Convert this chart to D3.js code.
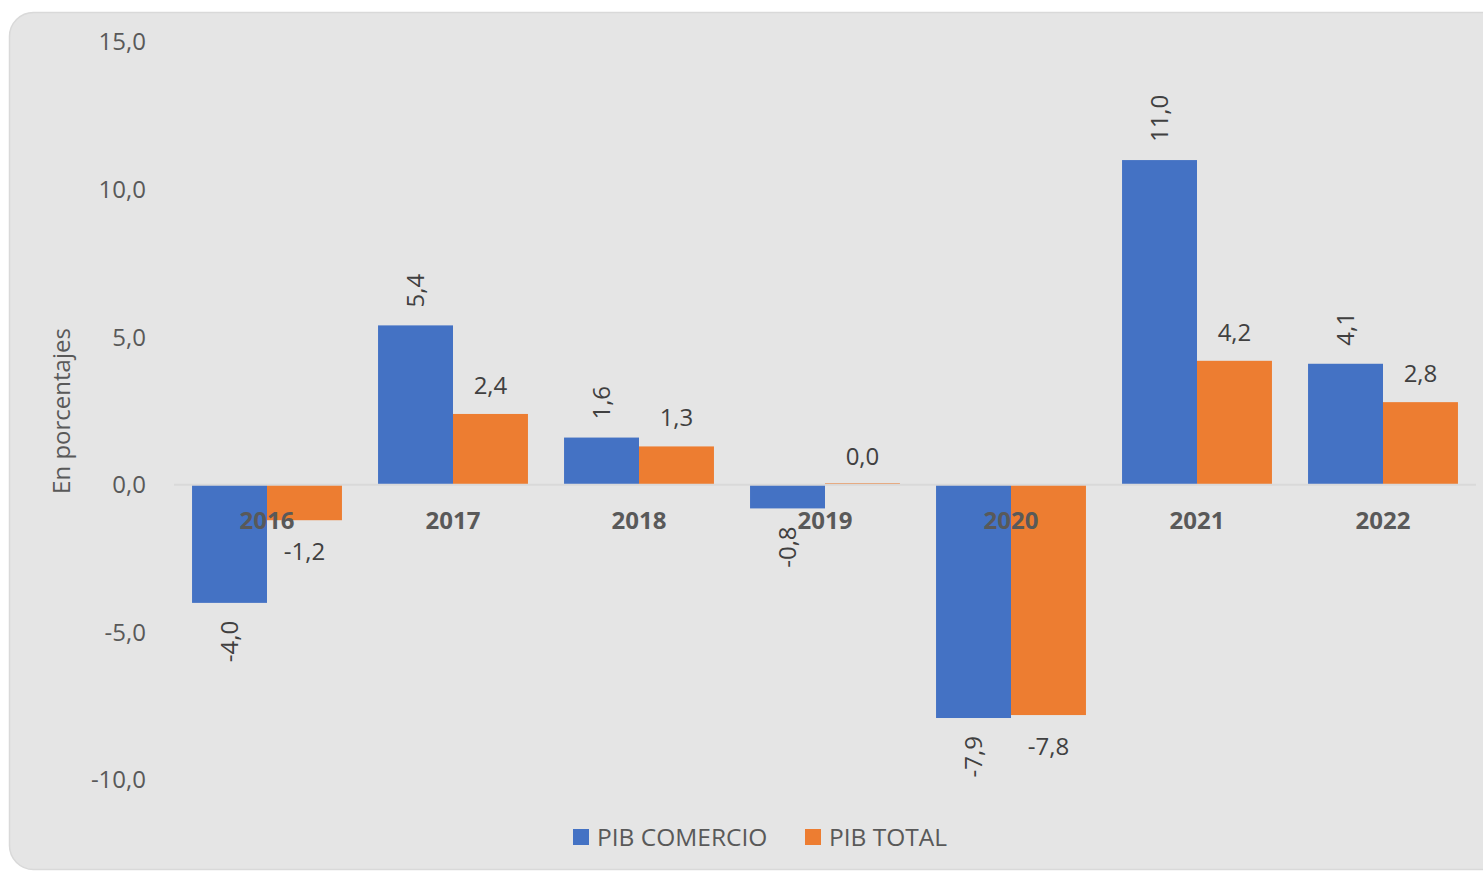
<!DOCTYPE html>
<html lang="es">
<head>
<meta charset="utf-8">
<title>PIB comercio vs PIB total</title>
<script src="https://d3js.org/d3.v7.min.js"></script>
<style>
  body { margin: 0; background: #fff; font-family: "Open Sans", sans-serif; }
  .tick-lbl { fill: #595959; font-size: 24px; }
  .cat-lbl { fill: #595959; font-size: 24px; font-weight: bold; }
  .val-lbl { fill: #404040; font-size: 24px; }
  .leg-lbl { fill: #595959; font-size: 24.5px; }
</style>
</head>
<body>
<div id="chart"></div>
<script>
"use strict"

// datos
var anios = ["2016", "2017", "2018", "2019", "2020", "2021", "2022"];
var series = ["PIB COMERCIO", "PIB TOTAL"];
var pibComercio = [-4.0, 5.4, 1.6, -0.8, -7.9, 11.0, 4.1];
var pibTotal = [-1.2, 2.4, 1.3, 0.0, -7.8, 4.2, 2.8];
var ticksY = [-10, -5, 0, 5, 10, 15];
var colores = ["#4472C4", "#ED7D31"];

var W = 1483, H = 872;

var locale = d3.formatLocale({ decimal: ",", thousands: ".", grouping: [3], currency: ["", ""], minus: "-" });
var fmt = locale.format(".1f");

var svg = d3.select("#chart").append("svg")
  .attr("width", W).attr("height", H);

// panel de fondo
svg.append("rect")
  .attr("x", 9.5).attr("y", 12.5)
  .attr("width", W + 40).attr("height", 857)
  .attr("rx", 24).attr("ry", 24)
  .attr("fill", "#e5e5e5").attr("stroke", "#d9d9d9").attr("stroke-width", 1.5);

var x = d3.scaleBand()
  .domain(anios)
  .range([174, 1476])
  .paddingInner(0.194)
  .paddingOuter(0.097);

var xs = d3.scaleBand()
  .domain(series)
  .range([0, x.bandwidth()]);

var y = d3.scaleLinear()
  .domain([-10, 15])
  .range([780, 42]);

// etiquetas eje y
svg.append("g").selectAll("text")
  .data(ticksY)
  .enter().append("text")
    .attr("class", "tick-lbl")
    .attr("x", 146)
    .attr("y", function(d) { return y(d); })
    .attr("dy", "0.35em")
    .attr("text-anchor", "end")
    .text(function(d) { return fmt(d); });

svg.append("text")
  .attr("class", "tick-lbl")
  .attr("font-size", "22px")
  .attr("transform", "translate(70," + 411 + ") rotate(-90)")
  .attr("text-anchor", "middle")
  .text("En porcentajes");

var filas = anios.map(function(a, i) {
  return { anio: a, valores: [pibComercio[i], pibTotal[i]] };
});

var grupos = svg.append("g").selectAll("g")
  .data(filas)
  .enter().append("g")
    .attr("transform", function(d) { return "translate(" + x(d.anio) + ",0)"; });

grupos.selectAll("rect")
  .data(function(d) { return d.valores.map(function(v, j) { return { serie: series[j], j: j, v: v }; }); })
  .enter().append("rect")
    .attr("x", function(d) { return xs(d.serie); })
    .attr("width", xs.bandwidth())
    .attr("y", function(d) { return d.v === 0 ? y(0) - 1.5 : Math.min(y(d.v), y(0)); })
    .attr("height", function(d) { return d.v === 0 ? 1.5 : Math.abs(y(d.v) - y(0)); })
    .attr("fill", function(d) { return colores[d.j]; });

// linea cero
svg.append("line")
  .attr("x1", 174).attr("x2", 1476)
  .attr("y1", y(0)).attr("y2", y(0))
  .attr("stroke", "#d9d9d9").attr("stroke-width", 2);

// etiquetas de categoria
svg.append("g").selectAll("text")
  .data(anios)
  .enter().append("text")
    .attr("class", "cat-lbl")
    .attr("x", function(d) { return x(d) + x.bandwidth() / 2; })
    .attr("y", y(0) + 44)
    .attr("text-anchor", "middle")
    .text(function(d) { return d; });

// etiquetas de valores
grupos.each(function(fila) {
  var g = d3.select(this);
  fila.valores.forEach(function(v, j) {
    var cx = xs(series[j]) + xs.bandwidth() / 2;
    var lbl = g.append("text").attr("class", "val-lbl").text(fmt(v));
    if (j === 0) {
      var yy = v >= 0 ? y(v) - 18 : y(v) + 18;
      lbl.attr("transform", "translate(" + cx + "," + yy + ") rotate(-90)")
        .attr("text-anchor", v >= 0 ? "start" : "end")
        .attr("dy", "0.35em");
    } else {
      var yb = v >= 0 ? y(v) - 20 : y(v) + 40;
      lbl.attr("x", cx).attr("y", yb).attr("text-anchor", "middle");
    }
  });
});

// leyenda
var leyenda = svg.append("g");
var legX = [573, 805];
series.forEach(function(s, j) {
  leyenda.append("rect")
    .attr("x", legX[j]).attr("y", 829)
    .attr("width", 16).attr("height", 16)
    .attr("fill", colores[j]);
  leyenda.append("text")
    .attr("class", "leg-lbl")
    .attr("x", legX[j] + 24).attr("y", 837)
    .attr("dy", "0.35em")
    .text(s);
});
</script>
</body>
</html>
